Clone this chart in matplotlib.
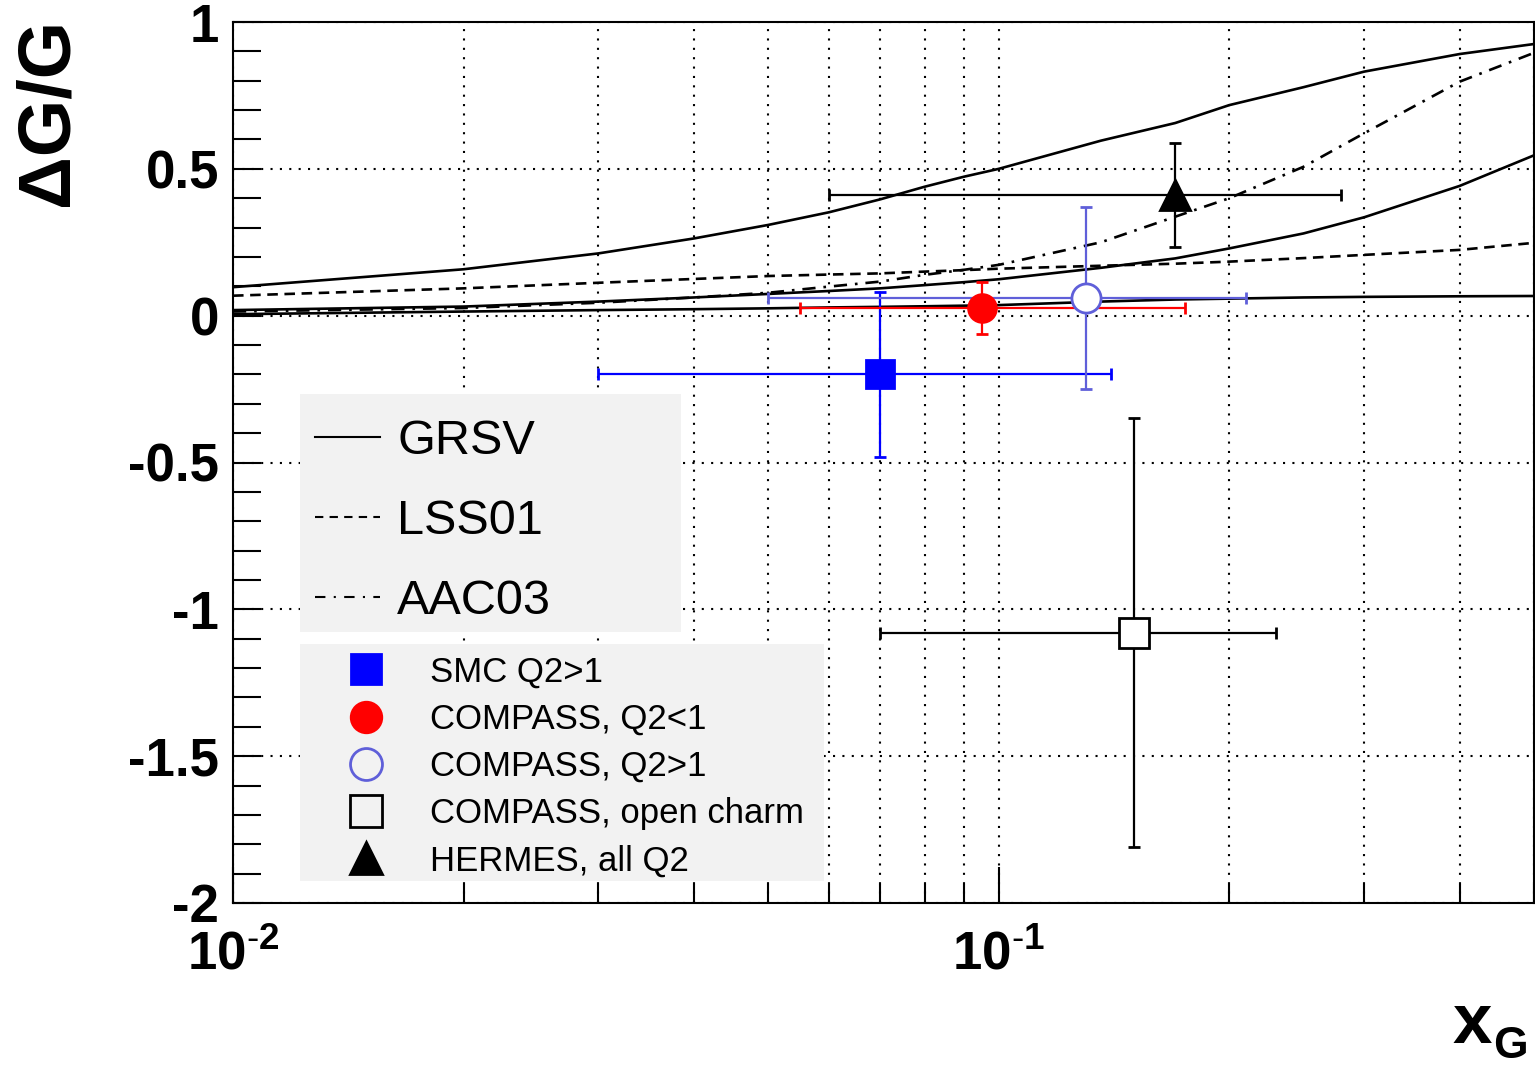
import matplotlib
matplotlib.use('Agg')
import matplotlib.pyplot as plt
from matplotlib.lines import Line2D
from matplotlib.patches import Rectangle
from matplotlib.ticker import FixedLocator, FixedFormatter, NullFormatter
import numpy as np

plt.rcParams['font.family'] = ['Liberation Sans', 'DejaVu Sans']
plt.rcParams['mathtext.fontset'] = 'custom'
plt.rcParams['mathtext.rm'] = 'Liberation Sans'
plt.rcParams['mathtext.bf'] = 'Liberation Sans:bold'
plt.rcParams['axes.unicode_minus'] = False

# theory curves
xg = [0.01, 0.02, 0.03, 0.04, 0.05, 0.06, 0.07, 0.08, 0.09, 0.1,
      0.136, 0.17, 0.2, 0.25, 0.3, 0.4, 0.5]
grsv_max = [0.097, 0.158, 0.212, 0.263, 0.309, 0.352, 0.396, 0.439, 0.473, 0.50,
            0.596, 0.656, 0.717, 0.778, 0.831, 0.891, 0.925]
grsv_std = [0.019, 0.031, 0.048, 0.062, 0.074, 0.084, 0.093, 0.104, 0.114, 0.124,
            0.163, 0.195, 0.229, 0.28, 0.335, 0.442, 0.546]
grsv_min = [0.005, 0.014, 0.019, 0.022, 0.025, 0.028, 0.030, 0.032, 0.034, 0.036,
            0.048, 0.055, 0.058, 0.062, 0.064, 0.066, 0.067]
lss01 = [0.068, 0.093, 0.112, 0.125, 0.135, 0.140, 0.144, 0.150, 0.155, 0.160,
         0.170, 0.177, 0.184, 0.196, 0.207, 0.224, 0.248]
aac03 = [0.014, 0.026, 0.044, 0.062, 0.078, 0.099, 0.116, 0.139, 0.156, 0.173,
         0.250, 0.337, 0.400, 0.507, 0.621, 0.797, 0.895]

# measurements: x, x range, dG/G, stat error
meas_names = ['SMC Q2>1', 'COMPASS, Q2<1', 'COMPASS, Q2>1',
              'COMPASS, open charm', 'HERMES, all Q2']
meas_x = [0.07, 0.095, 0.13, 0.15, 0.17]
meas_xlo = [0.03, 0.055, 0.05, 0.07, 0.06]
meas_xhi = [0.14, 0.175, 0.21, 0.23, 0.28]
meas_y = [-0.20, 0.026, 0.06, -1.08, 0.41]
meas_yerr = [0.28, 0.088, 0.31, 0.73, 0.177]

ytick_vals = [-2, -1.5, -1, -0.5, 0, 0.5, 1]
ytick_labels = ['-2', '-1.5', '-1', '-0.5', '0', '0.5', '1']
xtick_vals = [0.01, 0.1]
xtick_labels = [r'$\mathbf{10^{\text{-}2}}$', r'$\mathbf{10^{\text{-}1}}$']

styles = [
    dict(marker='s', color='#0000ff', mfc='#0000ff', mec='#0000ff', ms=20),
    dict(marker='o', color='#ff0000', mfc='#ff0000', mec='#ff0000', ms=20),
    dict(marker='o', color='#5f5fd9', mfc='white', mec='#5f5fd9', ms=21),
    dict(marker='s', color='black', mfc='white', mec='black', ms=21),
    dict(marker='^', color='black', mfc='black', mec='black', ms=21),
]

fig = plt.figure(figsize=(15.35, 10.68), dpi=100)
ax = fig.add_axes([233/1535, 1 - 903/1068, 1301/1535, 881/1068])
ax.set_xscale('log')
ax.set_xlim(0.01, 0.5)
ax.set_ylim(-2, 1)

lw = 1.9
ax.plot(xg, grsv_max, color='black', lw=lw, zorder=3)
ax.plot(xg, grsv_std, color='black', lw=lw, zorder=3)
ax.plot(xg, grsv_min, color='black', lw=lw, zorder=3)
ax.plot(xg, lss01, color='black', lw=lw, ls=(0, (4, 2.5)), zorder=3)
ax.plot(xg, aac03, color='black', lw=lw, ls=(0, (5, 3, 1, 3)), zorder=3)

for i in range(len(meas_x)):
    st = styles[i]
    xerr = [[meas_x[i] - meas_xlo[i]], [meas_xhi[i] - meas_x[i]]]
    ax.errorbar([meas_x[i]], [meas_y[i]], xerr=xerr, yerr=[meas_yerr[i]],
                fmt=st['marker'], color=st['color'], mfc=st['mfc'], mec=st['mec'],
                ms=st['ms'], mew=2, elinewidth=1.6, capsize=4.5, capthick=1.6,
                zorder=4)

# ticks and grid
ax.yaxis.set_major_locator(FixedLocator(ytick_vals))
ax.yaxis.set_major_formatter(FixedFormatter(ytick_labels))
ax.yaxis.set_minor_locator(FixedLocator(np.arange(-2, 1.01, 0.1)))
ax.xaxis.set_major_locator(FixedLocator(xtick_vals))
ax.xaxis.set_major_formatter(FixedFormatter(xtick_labels))
minor_x = [m * d for d in (0.01, 0.1) for m in range(2, 10) if m * d <= 0.5]
ax.xaxis.set_minor_locator(FixedLocator(minor_x))
ax.xaxis.set_minor_formatter(NullFormatter())

ax.tick_params(axis='both', which='both', direction='in', top=False, right=False,
               width=1.5)
ax.tick_params(axis='y', which='both', length=20)
ax.tick_params(axis='x', which='major', length=26, pad=20)
ax.tick_params(axis='x', which='minor', length=14)
ax.tick_params(axis='y', which='major', pad=10)
for lab in ax.get_yticklabels() + ax.get_xticklabels():
    lab.set_fontsize(38)
    lab.set_fontweight('bold')

grid_kw = dict(color='black', lw=1.5, ls=(0, (1, 3.5)), zorder=1)
ax.grid(axis='y', which='major', **grid_kw)
ax.grid(axis='x', which='both', **grid_kw)
for sp in ax.spines.values():
    sp.set_linewidth(1.5)

# legend backgrounds
ax.add_patch(Rectangle((0.0515, 0.3076), 0.2926, 0.2706, transform=ax.transAxes,
                       facecolor='#f2f2f2', edgecolor='none', zorder=5))
ax.add_patch(Rectangle((0.0515, 0.025), 0.4025, 0.269, transform=ax.transAxes,
                       facecolor='#f2f2f2', edgecolor='none', zorder=5))

curve_handles = [
    Line2D([], [], color='black', lw=1.5),
    Line2D([], [], color='black', lw=1.5, ls=(0, (4, 3))),
    Line2D([], [], color='black', lw=1.5, ls=(0, (5, 4, 1, 4))),
]
leg1 = ax.legend(curve_handles, ['GRSV', 'LSS01', 'AAC03'],
                 loc='upper left', bbox_to_anchor=(0.063, 0.5499),
                 fontsize=35, frameon=False, borderpad=0, borderaxespad=0,
                 handlelength=1.34, handletextpad=0.35, labelspacing=0.726)
ax.add_artist(leg1)

meas_handles = [Line2D([], [], ls='none', marker=st['marker'],
                       mfc=st['mfc'] if st['mfc'] != 'white' else 'none',
                       mec=st['mec'], ms=st['ms'] + 2, mew=2) for st in styles]
leg2 = ax.legend(meas_handles, meas_names,
                 loc='upper left', bbox_to_anchor=(0.0755, 0.2809),
                 fontsize=25, frameon=False, borderpad=0, borderaxespad=0,
                 handlelength=2.0, handletextpad=0.84, labelspacing=0.41)
leg1.set_zorder(6)
leg2.set_zorder(6)

# axis titles
fig.text(48/1535, 1 - 112/1068, '\u0394G/G', rotation=90, ha='center', va='center',
         fontsize=53, fontweight='bold')
fig.text(1453/1535, 1 - 1043/1068, 'x', ha='left', va='baseline',
         fontsize=51, fontweight='bold')
fig.text(1493/1535, 1 - 1058/1068, 'G', ha='left', va='baseline',
         fontsize=32, fontweight='bold')

plt.savefig('out.png', dpi=100)
